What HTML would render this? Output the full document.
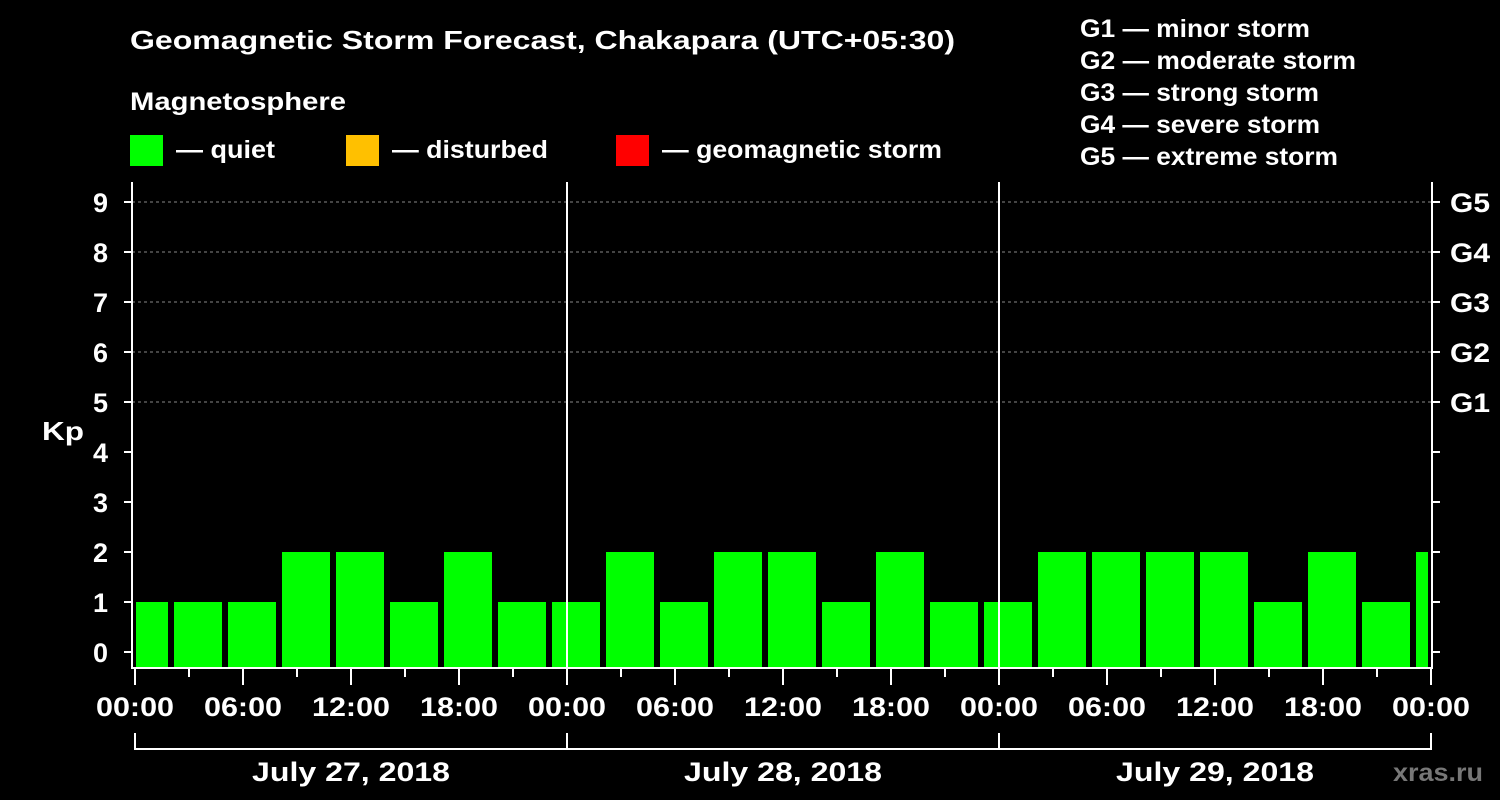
<!DOCTYPE html>
<html><head><meta charset="utf-8"><style>
body{margin:0;background:#000;width:1500px;height:800px;overflow:hidden}
svg{display:block;font-family:"Liberation Sans",Arial,sans-serif;font-weight:bold}
</style></head><body>
<svg id="chart" width="1500" height="800">
<g>
<text x="130" y="49" fill="#fff" font-size="26" textLength="825" lengthAdjust="spacingAndGlyphs">Geomagnetic Storm Forecast, Chakapara (UTC+05:30)</text>
<text x="130" y="110" fill="#fff" font-size="25" textLength="216" lengthAdjust="spacingAndGlyphs">Magnetosphere</text>
<rect x="130" y="135" width="33" height="31" fill="#00ff00"/>
<text x="176" y="158" fill="#fff" font-size="25" textLength="99" lengthAdjust="spacingAndGlyphs">— quiet</text>
<rect x="346" y="135" width="33" height="31" fill="#ffc000"/>
<text x="392" y="158" fill="#fff" font-size="25" textLength="156" lengthAdjust="spacingAndGlyphs">— disturbed</text>
<rect x="616" y="135" width="33" height="31" fill="#ff0000"/>
<text x="662" y="158" fill="#fff" font-size="25" textLength="280" lengthAdjust="spacingAndGlyphs">— geomagnetic storm</text>
<text x="1080" y="37" fill="#fff" font-size="25" textLength="230" lengthAdjust="spacingAndGlyphs">G1 — minor storm</text>
<text x="1080" y="69" fill="#fff" font-size="25" textLength="276" lengthAdjust="spacingAndGlyphs">G2 — moderate storm</text>
<text x="1080" y="101" fill="#fff" font-size="25" textLength="239" lengthAdjust="spacingAndGlyphs">G3 — strong storm</text>
<text x="1080" y="133" fill="#fff" font-size="25" textLength="240" lengthAdjust="spacingAndGlyphs">G4 — severe storm</text>
<text x="1080" y="165" fill="#fff" font-size="25" textLength="258" lengthAdjust="spacingAndGlyphs">G5 — extreme storm</text>
<text x="42" y="440" fill="#fff" font-size="26" textLength="42" lengthAdjust="spacingAndGlyphs">Kp</text>
<text x="1393" y="781" fill="#777" font-size="25" textLength="90" lengthAdjust="spacingAndGlyphs">xras.ru</text>
</g>
<g id="plot"></g>
</svg>
<script>
const kpValues=[1,1,1,2,2,1,2,1,1,2,1,2,2,1,2,1,1,2,2,2,2,1,2,1,2];
const dayLabels=["July 27, 2018","July 28, 2018","July 29, 2018"];
const hourLabels=["00:00","06:00","12:00","18:00"];
const gLabels=["G1","G2","G3","G4","G5"];
const yTicks=[0,1,2,3,4,5,6,7,8,9];
const firstBarStartHour=-0.8333;
const NS="http://www.w3.org/2000/svg";
const X0=135,PXH=18,Y0=652,PXK=50,LEFT=132,RIGHT=1432,TOP=182,BOTTOM=668;
const xS=h=>X0+h*PXH, yS=k=>Y0-k*PXK;
const g=document.getElementById('plot');
function mk(t,a,p){const e=document.createElementNS(NS,t);for(const k in a)e.setAttribute(k,a[k]);(p||g).appendChild(e);return e;}
[5,6,7,8,9].forEach(k=>{const l=mk('line',{x1:LEFT,x2:RIGHT,y1:yS(k),y2:yS(k),stroke:'#888','stroke-dasharray':'3,3','stroke-width':1});

});
kpValues.forEach((v,i)=>{let s=xS(firstBarStartHour+3*i),e=s+48;s=Math.max(s,LEFT+4);e=Math.min(e,RIGHT-4);if(e<=s)return;
const r=mk('rect',{x:s,y:yS(v),width:e-s,height:BOTTOM-yS(v),fill:'#00ff00'});

});
[1,2].forEach(d=>{const l=mk('line',{x1:xS(24*d),x2:xS(24*d),y1:TOP,y2:BOTTOM,stroke:'#fff','stroke-width':2});

});
const f=mk('path',{d:`M${LEFT} ${TOP}V${BOTTOM}H${RIGHT}V${TOP}`,stroke:'#fff','stroke-width':2,fill:'none'});


yTicks.forEach(k=>{mk('line',{x1:LEFT-8,x2:LEFT,y1:yS(k),y2:yS(k),stroke:'#fff','stroke-width':2});
mk('line',{x1:RIGHT,x2:RIGHT+8,y1:yS(k),y2:yS(k),stroke:'#fff','stroke-width':2});
const t=mk('text',{x:LEFT-24,y:yS(k)+10,fill:'#fff','font-size':27,'text-anchor':'end'});t.textContent=k;

});
gLabels.forEach((s,i)=>{const t=mk('text',{x:1450,y:yS(5+i)+10,fill:'#fff','font-size':27,textLength:40,lengthAdjust:'spacingAndGlyphs'});t.textContent=s;

});
for(let h=0;h<=72;h+=3){const big=h%6===0;mk('line',{x1:xS(h),x2:xS(h),y1:BOTTOM,y2:BOTTOM+(big?17:9),stroke:'#fff','stroke-width':2});
if(big){const t=mk('text',{x:xS(h),y:716,fill:'#fff','font-size':27,'text-anchor':'middle',textLength:78,lengthAdjust:'spacingAndGlyphs'});t.textContent=(h===72)?hourLabels[0]:hourLabels[(h%24)/6];

}}
const b=mk('path',{d:`M${xS(0)} 733V749H${xS(72)}V733M${xS(24)} 733V749M${xS(48)} 733V749`,stroke:'#fff','stroke-width':2,fill:'none'});


dayLabels.forEach((s,i)=>{const t=mk('text',{x:xS(24*i+12),y:781,fill:'#fff','font-size':27,'text-anchor':'middle',textLength:198,lengthAdjust:'spacingAndGlyphs'});t.textContent=s;

});
</script>
</body></html>
